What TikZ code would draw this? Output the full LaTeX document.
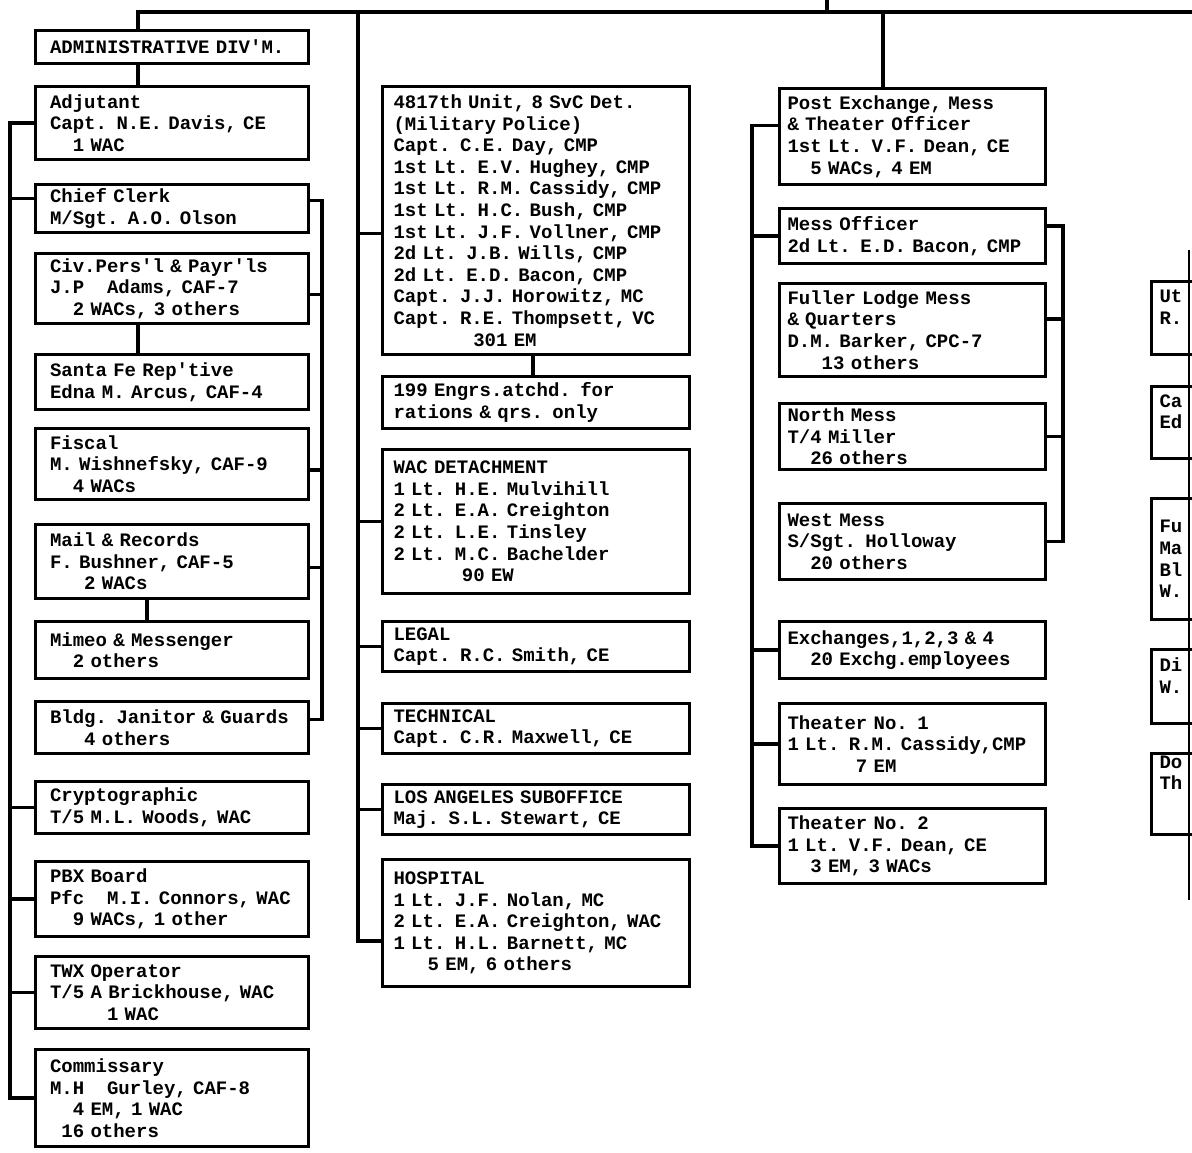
\documentclass[tikz,border=0pt]{standalone}
\usepackage{fontspec}
\setmonofont{Liberation Mono}
\usetikzlibrary{positioning}
\newcommand{\idt}[1]{\hspace*{\dimexpr 0.6em*#1\relax}}

\tikzset{
  orgbox/.style={draw, line width=1.5pt, anchor=north west, align=left, inner ysep=1pt,
    font={\ttfamily\bfseries\fontsize{9.5}{10.8}\selectfont\spaceskip=0.6em\relax}},
  leftbox/.style={orgbox, inner xsep=7.25pt, text width=122pt},
  midbox/.style={orgbox, inner xsep=5.5pt, text width=142.5pt},
  rightbox/.style={orgbox, inner xsep=4pt, text width=125pt},
  edgebox/.style={orgbox, inner xsep=4pt, text width=40pt},
  link/.style={line width=1.6pt, line cap=rect}
}

\begin{document}
\begin{tikzpicture}[x=0.5pt, y=-0.5pt]
    \useasboundingbox (0,0) rectangle (1192,1152);

    % 幹線
    \coordinate (topL) at (138,12);
    \coordinate (topR) at (1192,12);
    \coordinate (tick) at (827,0);
    \coordinate (mtrunk) at (358,12);
    \coordinate (pxdrop) at (883,12);
    \coordinate (ltrunk) at (10,0);
    \coordinate (rtrunk) at (322,0);
    \coordinate (qtrunk) at (752,0);
    \coordinate (messtrunk) at (1063,0);
    \coordinate (mimeodrop) at (147,0);
    \coordinate (engrsdrop) at (533,0);

    % 管理部
    \node[leftbox, minimum height=16.5pt] (adm) at (34,29) {ADMINISTRATIVE DIV'M.};
    \node[leftbox, minimum height=36.5pt] (adj) at (34,85)
        {Adjutant\\Capt. N.E. Davis, CE\\\idt{2}1 WAC};
    \node[leftbox, minimum height=24pt] (clerk) at (34,183)
        {Chief Clerk\\M/Sgt. A.O. Olson};
    \node[leftbox, minimum height=35pt] (civpers) at (34,252)
        {Civ.Pers'l \& Payr'ls\\J.P\idt{2}Adams, CAF-7\\\idt{2}2 WACs, 3 others};
    \node[leftbox, minimum height=27.5pt] (santafe) at (34,353)
        {Santa Fe Rep'tive\\Edna M. Arcus, CAF-4};
    \node[leftbox, minimum height=35.5pt] (fiscal) at (34,427)
        {Fiscal\\M. Wishnefsky, CAF-9\\\idt{2}4 WACs};
    \node[leftbox, minimum height=37pt] (mail) at (34,523)
        {Mail \& Records\\F. Bushner, CAF-5\\\idt{3}2 WACs};
    \node[leftbox, minimum height=28.5pt] (mimeo) at (34,620)
        {Mimeo \& Messenger\\\idt{2}2 others};
    \node[leftbox, minimum height=26pt] (janitor) at (34,700)
        {Bldg. Janitor \& Guards\\\idt{3}4 others};
    \node[leftbox, minimum height=26pt] (crypto) at (34,780)
        {Cryptographic\\T/5 M.L. Woods, WAC};
    \node[leftbox, minimum height=37.5pt] (pbx) at (34,860)
        {PBX Board\\Pfc\idt{2}M.I. Connors, WAC\\\idt{2}9 WACs, 1 other};
    \node[leftbox, minimum height=36pt] (twx) at (34,955)
        {TWX Operator\\T/5 A Brickhouse, WAC\\\idt{5}1 WAC};
    \node[leftbox, minimum height=48.5pt] (commis) at (34,1048)
        {Commissary\\M.H\idt{2}Gurley, CAF-8\\\idt{2}4 EM, 1 WAC\\\idt{1}16 others};

    % 中央の列
    \node[midbox, minimum height=134pt] (mp) at (381,85)
        {4817th Unit, 8 SvC Det.\\(Military Police)\\Capt. C.E. Day, CMP\\
         1st Lt. E.V. Hughey, CMP\\1st Lt. R.M. Cassidy, CMP\\1st Lt. H.C. Bush, CMP\\
         1st Lt. J.F. Vollner, CMP\\2d Lt. J.B. Wills, CMP\\2d Lt. E.D. Bacon, CMP\\
         Capt. J.J. Horowitz, MC\\Capt. R.E. Thompsett, VC\\\idt{7}301 EM};
    \node[midbox, minimum height=26pt] (engrs) at (381,375)
        {199 Engrs.atchd. for\\rations \& qrs. only};
    \node[midbox, minimum height=72pt] (wacdet) at (381,448)
        {WAC DETACHMENT\\1 Lt. H.E. Mulvihill\\2 Lt. E.A. Creighton\\
         2 Lt. L.E. Tinsley\\2 Lt. M.C. Bachelder\\\idt{6}90 EW};
    \node[midbox, minimum height=25pt] (legal) at (381,620)
        {LEGAL\\Capt. R.C. Smith, CE};
    \node[midbox, minimum height=25pt] (tech) at (381,702)
        {TECHNICAL\\Capt. C.R. Maxwell, CE};
    \node[midbox, minimum height=25pt] (la) at (381,783)
        {LOS ANGELES SUBOFFICE\\Maj. S.L. Stewart, CE};
    \node[midbox, minimum height=63.5pt] (hosp) at (381,858)
        {HOSPITAL\\1 Lt. J.F. Nolan, MC\\2 Lt. E.A. Creighton, WAC\\
         1 Lt. H.L. Barnett, MC\\\idt{3}5 EM, 6 others};

    % 右の列
    \node[rightbox, minimum height=48pt] (px) at (778,87)
        {Post Exchange, Mess\\\& Theater Officer\\1st Lt. V.F. Dean, CE\\\idt{2}5 WACs, 4 EM};
    \node[rightbox, minimum height=27.5pt] (messoff) at (778,207)
        {Mess Officer\\2d Lt. E.D. Bacon, CMP};
    \node[rightbox, minimum height=46.5pt] (fuller) at (778,282)
        {Fuller Lodge Mess\\\& Quarters\\D.M. Barker, CPC-7\\\idt{3}13 others};
    \node[rightbox, minimum height=33pt] (nmess) at (778,402)
        {North Mess\\T/4 Miller\\\idt{2}26 others};
    \node[rightbox, minimum height=38pt] (wmess) at (778,502)
        {West Mess\\S/Sgt. Holloway\\\idt{2}20 others};
    \node[rightbox, minimum height=28.5pt] (exch) at (778,620)
        {Exchanges,1,2,3 \& 4\\\idt{2}20 Exchg.employees};
    \node[rightbox, minimum height=40.5pt] (theat1) at (778,702)
        {Theater No. 1\\1 Lt. R.M. Cassidy,CMP\\\idt{6}7 EM};
    \node[rightbox, minimum height=37.5pt] (theat2) at (778,807)
        {Theater No. 2\\1 Lt. V.F. Dean, CE\\\idt{2}3 EM, 3 WACs};

    % 端で切れた列
    \begin{scope}
        \clip (0,0) rectangle (1192,1152);
        \node[edgebox, minimum height=36.5pt] (ut) at (1150,280) {Ut\\R.\\\mbox{}};
        \node[edgebox, minimum height=36pt] (ca) at (1150,385) {Ca\\Ed\\\mbox{}};
        \node[edgebox, minimum height=60.5pt] (fu) at (1150,497) {Fu\\Ma\\Bl\\W.};
        \node[edgebox, minimum height=37pt] (di) at (1150,648) {Di\\W.\\\mbox{}};
        \node[edgebox, minimum height=39pt] (do) at (1150,752) {Do\\Th\\\mbox{}\\\mbox{}};
    \end{scope}
    \draw[line width=1pt] (1189,250) -- (1189,900);

    % 線
    \draw[link] (topL) -- (topR);
    \draw[link] (tick) -- (tick |- topL);
    \draw[link] (topL) -- (topL |- adm.north);
    \draw[link] (topL |- adm.south) -- (topL |- adj.north);
    \draw[link] (topL |- civpers.south) -- (topL |- santafe.north);
    \draw[link] (mimeodrop |- mail.south) -- (mimeodrop |- mimeo.north);

    \draw[link] (adj.west) -- (adj.west -| ltrunk) -- (commis.west -| ltrunk) -- (commis.west);
    \draw[link] ([yshift=5pt]clerk.west) -- ([yshift=5pt]clerk.west -| ltrunk);
    \foreach \b in {crypto,pbx,twx}
        \draw[link] (\b.west) -- (\b.west -| ltrunk);

    \draw[link] ([yshift=4pt]clerk.east) -- ([yshift=4pt]clerk.east -| rtrunk)
        -- ([yshift=4pt]janitor.east -| rtrunk) -- ([yshift=4pt]janitor.east);
    \foreach \b in {civpers,fiscal,mail}
        \draw[link] ([yshift=-3pt]\b.east) -- ([yshift=-3pt]\b.east -| rtrunk);

    \draw[link] (mtrunk) -- ([yshift=-9pt]hosp.west -| mtrunk) -- ([yshift=-9pt]hosp.west);
    \draw[link] ([yshift=-6.5pt]mp.west) -- ([yshift=-6.5pt]mp.west -| mtrunk);
    \foreach \b in {wacdet,legal,tech,la}
        \draw[link] (\b.west) -- (\b.west -| mtrunk);
    \draw[link] (engrsdrop |- mp.south) -- (engrsdrop |- engrs.north);

    \draw[link] (pxdrop) -- (pxdrop |- px.north);
    \draw[link] ([yshift=5.5pt]px.west) -- ([yshift=5.5pt]px.west -| qtrunk)
        -- (theat2.west -| qtrunk) -- (theat2.west);
    \foreach \b in {messoff,exch,theat1}
        \draw[link] (\b.west) -- (\b.west -| qtrunk);

    \draw[link] ([yshift=5pt]messoff.east) -- ([yshift=5pt]messoff.east -| messtrunk)
        -- (wmess.east -| messtrunk) -- (wmess.east);
    \draw[link] ([yshift=5.5pt]fuller.east) -- ([yshift=5.5pt]fuller.east -| messtrunk);
    \draw[link] (nmess.east) -- (nmess.east -| messtrunk);
\end{tikzpicture}
\end{document}
